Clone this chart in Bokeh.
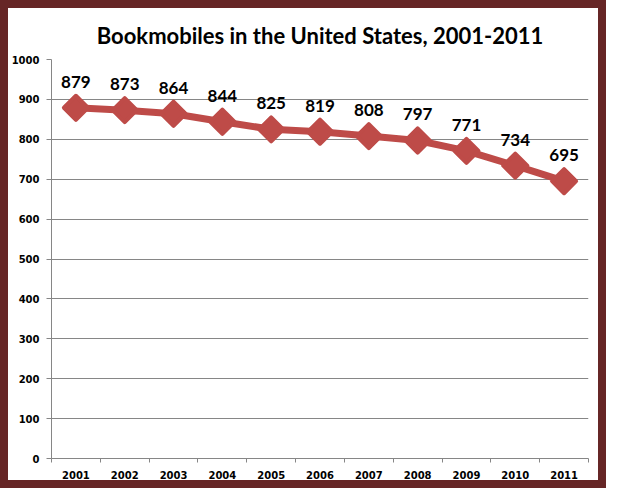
from bokeh.plotting import figure
from bokeh.models import Range1d, FixedTicker, ColumnDataSource
from bokeh.embed import file_html
from bokeh.resources import INLINE
from bokeh.core.properties import value
import math

years = ["2001", "2002", "2003", "2004", "2005", "2006", "2007", "2008", "2009", "2010", "2011"]
bookmobiles = [879, 873, 864, 844, 825, 819, 808, 797, 771, 734, 695]
y_ticks = [0, 100, 200, 300, 400, 500, 600, 700, 800, 900, 1000]
title_text = "Bookmobiles in the United States, 2001-2011"

RED = "#be4b48"
GRAY = "#868686"
MAROON = "#662626"

xs = list(range(1, len(years) + 1))
src = ColumnDataSource(dict(x=xs, y=bookmobiles, lbl=[str(v) for v in bookmobiles]))

p = figure(width=606, height=488, output_backend="svg", toolbar_location=None,
           x_range=Range1d(0.5, len(years) + 0.5), y_range=Range1d(y_ticks[0], y_ticks[-1]),
           min_border_left=43, min_border_right=26, min_border_top=51, min_border_bottom=38,
           title=title_text)
p.styles = {"border": "8px solid " + MAROON}
p.background_fill_color = "white"
p.border_fill_color = "white"
p.outline_line_color = None

p.title.align = "center"
p.title.text_font = "Lato"
p.title.text_font_style = "bold"
p.title.text_font_size = "22px"
p.title.text_color = "black"
p.title.standoff = 22

# x axis
p.xaxis.ticker = FixedTicker(ticks=xs, minor_ticks=[i + 0.5 for i in range(len(years) + 1)])
p.xaxis.major_label_overrides = {x: y for x, y in zip(xs, years)}
p.xaxis.major_tick_line_color = None
p.xaxis.major_tick_out = 4
p.xaxis.major_tick_in = 0
p.xaxis.minor_tick_out = 4
p.xaxis.minor_tick_in = 0
p.xaxis.minor_tick_line_color = GRAY
p.xaxis.axis_line_color = GRAY
p.xaxis.major_label_standoff = 8
p.xaxis.major_label_text_font = "DejaVu Sans"
p.xaxis.major_label_text_font_style = "bold"
p.xaxis.major_label_text_font_size = "10px"
p.xaxis.major_label_text_color = "black"

# y axis
p.yaxis.ticker = FixedTicker(ticks=y_ticks, minor_ticks=[])
p.yaxis.major_tick_out = 5
p.yaxis.major_tick_in = 0
p.yaxis.major_tick_line_color = GRAY
p.yaxis.minor_tick_line_color = None
p.yaxis.axis_line_color = GRAY
p.yaxis.major_label_standoff = 7
p.yaxis.major_label_text_font = "DejaVu Sans"
p.yaxis.major_label_text_font_style = "bold"
p.yaxis.major_label_text_font_size = "10px"
p.yaxis.major_label_text_color = "black"

p.xgrid.grid_line_color = None
p.ygrid.ticker = FixedTicker(ticks=y_ticks)
p.ygrid.grid_line_color = GRAY
p.ygrid.grid_line_width = 1

p.line("x", "y", source=src, line_color=RED, line_width=7, line_join="round")
p.scatter("x", "y", source=src, marker="square", size=17, angle=math.pi / 4,
          fill_color=RED, line_color=RED, line_width=4, line_join="round")
p.text("x", "y", text="lbl", source=src, y_offset=-26, text_align="center",
       text_baseline="middle", text_font=value("Lato"), text_font_style="bold",
       text_font_size="17px", text_color="black")

open("out.html", "w").write(file_html(p, INLINE))
